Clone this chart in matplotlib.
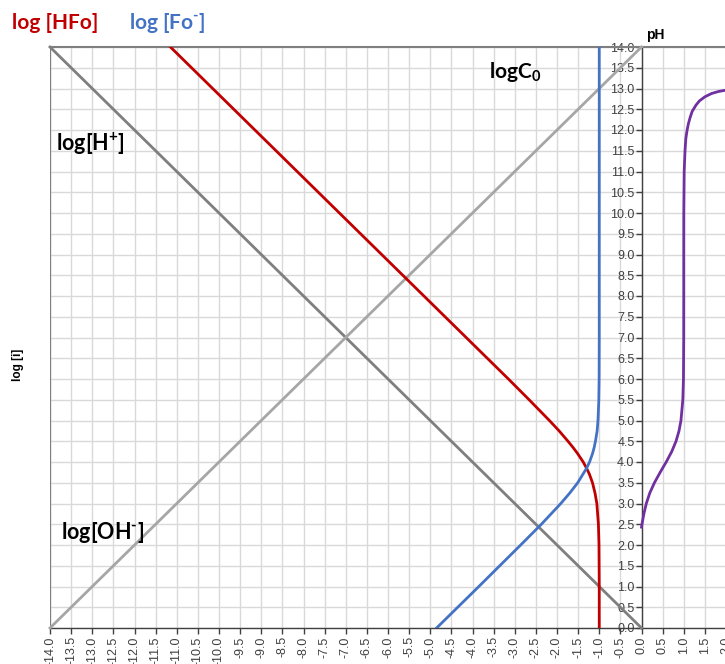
"""Log-concentration diagram for a weak acid HFo (C0 = 0.1 M) with its titration curve."""
import matplotlib
matplotlib.use("Agg")
import matplotlib.pyplot as plt
import numpy as np

# ---- data (x = log concentration / fraction titrated, y = pH) ----
ph_pts = [0.0, 1.0, 2.0, 2.5, 3.0, 3.25, 3.5, 3.7, 3.85, 4.0, 4.2, 4.35, 4.5, 4.75, 5.0,
          5.25, 5.5, 6.0, 7.0, 8.0, 10.0, 12.0, 14.0]
log_hfo = [-1.00, -1.00, -1.006, -1.02, -1.057, -1.10, -1.16, -1.23, -1.30, -1.38, -1.51,
           -1.62, -1.74, -1.95, -2.18, -2.42, -2.66, -3.15, -4.15, -5.15, -7.15, -9.15, -11.15]
log_fo = [-4.85, -3.85, -2.86, -2.37, -1.91, -1.70, -1.51, -1.39, -1.30, -1.23, -1.16,
          -1.12, -1.09, -1.05, -1.03, -1.02, -1.01, -1.003, -1.0, -1.0, -1.0, -1.0, -1.0]

log_h_ph = [14.0, 0.0]
log_h_x = [-14.0, 0.0]
log_oh_ph = [0.0, 14.0]
log_oh_x = [-14.0, 0.0]

titr_ph = [2.43, 2.5, 2.75, 3.0, 3.25, 3.5, 3.75, 4.0, 4.25, 4.5, 4.75, 5.0, 5.5, 6.0,
           7.0, 8.0, 9.0, 10.0, 11.0, 11.5, 11.8, 12.0, 12.15, 12.3, 12.45, 12.6, 12.7,
           12.8, 12.88, 12.93, 12.96]
titr_a = [0.0, 0.011, 0.056, 0.114, 0.195, 0.306, 0.441, 0.585, 0.715, 0.817, 0.888,
          0.934, 0.978, 0.993, 0.999, 1.0, 1.0, 1.001, 1.01, 1.03, 1.05, 1.08, 1.11,
          1.15, 1.20, 1.29, 1.37, 1.50, 1.66, 1.83, 2.0]

RED = "#c00000"
BLUE = "#4472c4"
PURPLE = "#7030a0"
DARK_GREY = "#7f7f7f"
LIGHT_GREY = "#a6a6a6"
GRID = "#d9d9d9"

ANNOT_FONT = ["Lato", "DejaVu Sans"]
TICK_FONT = "Liberation Sans"

plt.rcParams["mathtext.fontset"] = "custom"
plt.rcParams["mathtext.rm"] = "Lato"
plt.rcParams["mathtext.bf"] = "Lato:bold"

fig = plt.figure(figsize=(7.25, 6.64), dpi=100)
ax = fig.add_axes([50 / 725, 1 - 628 / 664, 676 / 725, (628 - 47) / 664])

ax.set_xlim(-14, 2)
ax.set_ylim(0, 14)
ax.set_xticks(np.arange(-14, 2.01, 0.5))
ax.set_yticks(np.arange(0, 14.01, 0.5))
ax.grid(True, color=GRID, linewidth=1.0, zorder=0)
ax.set_axisbelow(True)

# spines: value axis sits at x = 0, grey frame on the left/top
ax.spines["left"].set_position(("data", 0))
ax.spines["left"].set_color("#404040")
ax.spines["left"].set_linewidth(1.0)
ax.spines["bottom"].set_color("#404040")
ax.spines["bottom"].set_linewidth(1.0)
ax.spines["top"].set_color(DARK_GREY)
ax.spines["top"].set_linewidth(1.5)
ax.spines["right"].set_visible(False)
ax.axvline(-14, color=DARK_GREY, linewidth=1.6, zorder=1)

ax.tick_params(axis="y", direction="out", length=4, width=1, color="#404040", pad=1)
ax.tick_params(axis="x", direction="out", length=4, width=1, color="#404040", pad=2)
ax.set_yticklabels([f"{v:.1f}" for v in np.arange(0, 14.01, 0.5)],
                   fontsize=9, family=TICK_FONT, color="#404040")
ax.set_xticklabels([f"{v:.1f}" for v in np.arange(-14, 2.01, 0.5)],
                   fontsize=9, family=TICK_FONT, color="#404040", rotation=90)

# lines
ax.plot(log_h_x, log_h_ph, color=DARK_GREY, linewidth=2, zorder=3, clip_on=False)
ax.plot(log_oh_x, log_oh_ph, color=LIGHT_GREY, linewidth=2, zorder=3, clip_on=False)
ax.plot(log_hfo, ph_pts, color=RED, linewidth=2, zorder=4)
ax.plot(log_fo, ph_pts, color=BLUE, linewidth=2, zorder=4)
ax.plot(titr_a, titr_ph, color=PURPLE, linewidth=2, zorder=4)

# labels inside the chart
ax.text(-3.6, 13.25, r"logC$_{\mathbf{0}}$", fontsize=15, fontweight="bold", family=ANNOT_FONT)
ax.text(-13.85, 11.5, r"log[H$^{\mathbf{+}}$]", fontsize=15.5, fontweight="bold",
        family=ANNOT_FONT)
ax.text(-13.75, 2.15, "log[OH$^{\\mathbf{\u2010}}$]", fontsize=15.5, fontweight="bold",
        family=ANNOT_FONT)

# header texts
fig.text(12 / 725, 1 - 23 / 664, "log [HFo]", color=RED, fontsize=15,
         fontweight="bold", family=ANNOT_FONT, va="center")
fig.text(129 / 725, 1 - 23 / 664, "log [Fo$^{\\mathbf{\u2010}}$]", color=BLUE, fontsize=15,
         fontweight="bold", family=ANNOT_FONT, va="center")
fig.text(655 / 725, 1 - 35 / 664, "pH", fontsize=10, fontweight="bold",
         family=TICK_FONT, ha="center", va="center")
fig.text(18 / 725, 1 - 365 / 664, "log [i]", fontsize=8.5, fontweight="bold",
         family=TICK_FONT, ha="center", va="center", rotation=90)

fig.savefig("out.png", dpi=100)
